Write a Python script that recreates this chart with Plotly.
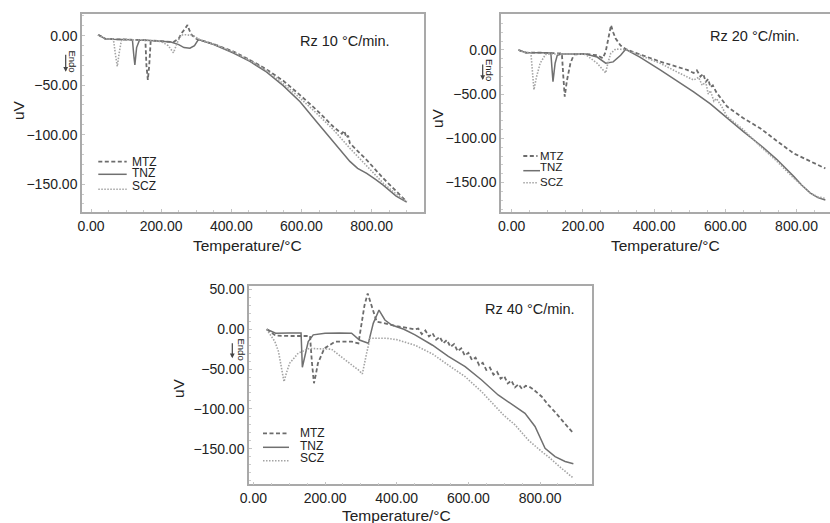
import plotly.graph_objects as go

W, H = 830, 523

# ---------------- data ----------------
# Panel 1: Rz 10 °C/min
t10_mtz = [20, 40, 60, 100, 140, 155, 158, 162, 166, 170, 175, 200, 235, 250, 258, 268, 275, 281, 287, 301, 311, 350, 406, 453, 500,
           548, 596, 643, 691, 715, 722, 728, 733, 738, 786, 833, 870, 900]
v10_mtz = [1, -3, -3.5, -4, -4, -4.5, -30, -44.7, -30, -6, -5, -5.5, -6.4, -3, 2.4, 7, 10.8, 5, 0.7, -3.4, -4.3, -8.5, -16, -24.5, -34,
           -45.5, -60, -75, -92, -99, -96, -103, -101, -108.7, -125.6, -144, -157, -167.7]

t10_tnz = [20, 40, 60, 100, 118, 122, 125, 130, 138, 160, 200, 228, 250, 265, 282, 295, 306, 311, 350, 406, 453, 500,
           548, 596, 643, 691, 738, 760, 786, 810, 833, 870, 900]
v10_tnz = [1, -3, -3.5, -4, -4, -20, -29.6, -12, -4.5, -4.5, -5.5, -6.3, -9, -12, -12.7, -10, -4, -4.3, -9, -17.5, -26, -36.5,
           -50.5, -66.7, -86.9, -107, -127, -134, -139, -145, -151, -162, -168]

t10_scz = [20, 40, 60, 64, 70, 75, 80, 87, 100, 150, 200, 220, 235, 249, 258, 270, 292, 311, 350, 406, 453, 500,
           548, 596, 643, 691, 738, 786, 833, 870, 900]
v10_scz = [1, -3, -3.5, -4, -20, -31, -18, -4, -4, -4.5, -6, -10, -17.2, -4.4, 0.7, 1, 0, -4.3, -8.5, -16.5, -25, -35,
           -48.5, -63, -78.4, -95, -113.7, -132, -149, -160, -167.7]

# Panel 2: Rz 20 °C/min
t20_mtz = [19, 40, 80, 120, 141, 145, 149, 155, 165, 175, 207, 240, 256, 264, 269, 279, 285, 292, 306, 320, 360, 417, 465, 493,
           511, 520, 530, 538, 545, 552, 558, 565, 575, 605, 650, 698, 745, 792, 839, 881]
v20_mtz = [0, -3, -3, -3.5, -4, -30, -52.8, -35, -15, -5, -4.5, -6, -9.4, -2, 7.5, 28, 20, 13, 5, 1, -5, -13.2, -19, -22.6,
           -26, -23, -30, -27, -36, -33, -42, -40, -48, -64, -77, -88.6, -103, -117, -126, -134]

t20_tnz = [19, 40, 80, 110, 113, 116, 122, 128, 140, 175, 207, 240, 264, 285, 306, 320, 360, 417, 465, 511, 558, 604, 650,
           698, 745, 792, 815, 839, 860, 881]
v20_tnz = [0, -3, -3, -3.5, -20, -35.8, -15, -6, -4.5, -4.5, -4.5, -8, -15, -13.5, -6, 0.8, -8, -22.6, -35, -47.5, -61, -77, -92,
           -107.5, -124, -143, -153, -162, -167, -169.7]

t20_scz = [19, 40, 54, 58, 62.5, 70, 80, 95, 120, 175, 207, 240, 264, 270, 278, 292, 320, 360, 417, 465, 511, 525, 535, 545,
           552, 558, 568, 575, 590, 604, 650, 698, 745, 792, 839, 860, 881]
v20_scz = [0, -3, -3.5, -25, -45, -30, -15, -5, -4.5, -4.5, -5, -15, -26, -15, -4, 1, 0.5, -6, -15, -25, -34, -31, -40, -36,
           -50, -46, -58, -55, -64, -75, -90, -109, -126, -145, -162, -166, -168]

# Panel 3: Rz 40 °C/min
t40_mtz = [37, 62, 100, 158, 163, 169, 175, 180, 198, 228, 274, 293, 302, 310, 319, 330, 344, 367, 400, 451,
           460, 470, 480, 490, 500, 510, 520, 530, 540, 550, 560, 570, 580, 590, 600, 610, 620, 630, 640, 650,
           660, 670, 680, 690, 700, 710, 720, 730, 740, 750, 760, 770, 780, 805, 823, 840, 860, 880, 893]
v40_mtz = [0, -8, -8.4, -8.4, -40, -67.8, -55, -42.7, -24, -15.5, -15.5, -17.6, 7.5, 30, 45, 28.4, 9.5, 7.5, 4, 0,
           1, -6, -1.5, -9, -5, -13, -9.5, -17.5, -13.5, -22, -18.5, -27.5, -24, -33, -29.5, -38.5, -35.5, -45, -42, -51,
           -48, -57, -53.5, -62, -59, -68, -64.5, -73, -69, -75, -71, -72, -75, -84.7, -95, -103, -114, -124, -130.6]

t40_tnz = [37, 62, 100, 133, 136.6, 145, 153, 167, 200, 240, 274, 296, 320.7, 334.5, 350.5, 367, 386, 420, 451, 500,
           544, 591, 637, 683, 730, 758, 786, 814, 842, 870, 893]
v40_tnz = [0, -5, -4.5, -4.5, -47.7, -30, -15.5, -7, -5, -4.5, -5, -13.4, -17.6, 7.5, 24.2, 11.7, 5.4, 0, -7, -20,
           -34, -47, -63.7, -82.5, -97, -105.5, -122, -149.5, -160, -166, -169]

t40_scz = [37, 60, 70, 80, 85.4, 92, 101, 125, 156, 218, 249, 275, 293, 304, 316, 325.5, 372, 400, 451, 500, 544, 591,
           637, 674, 698, 730, 767, 805, 823, 860, 893]
v40_scz = [0, -15.5, -28, -50, -65.8, -55, -42.7, -30, -24, -25, -36.4, -45, -51, -56, -30, -11.3, -11.3, -13, -20, -31, -45, -59.5,
           -78.4, -97, -107.7, -120, -139, -153.8, -160, -174.6, -187]

series_names = ["MTZ", "TNZ", "SCZ"]
x_ticks = [0, 200, 400, 600, 800]
y_ticks_top = [0, -50, -100, -150]
y_ticks_bottom = [50, 0, -50, -100, -150]
panel_titles = ["Rz 10 °C/min.", "Rz 20 °C/min.", "Rz 40 °C/min."]
x_title = "Temperature/°C"
y_title = "uV"
endo_text = "Endo"

panel_data = [
    [(t10_mtz, v10_mtz), (t10_tnz, v10_tnz), (t10_scz, v10_scz)],
    [(t20_mtz, v20_mtz), (t20_tnz, v20_tnz), (t20_scz, v20_scz)],
    [(t40_mtz, v40_mtz), (t40_tnz, v40_tnz), (t40_scz, v40_scz)],
]

# ---------------- styling ----------------
FONT = "Liberation Sans, Arial, Helvetica, sans-serif"
TXT = "#222222"
styles = {
    "MTZ": dict(color="#6c6c6c", width=1.8, dash="4px,2.5px"),
    "TNZ": dict(color="#707070", width=1.5, dash="solid"),
    "SCZ": dict(color="#a4a4a4", width=1.6, dash="1.5px,1.5px"),
}


def px(x):
    return x / W


def py(y):
    return 1 - y / H


# panel geometry (pixels): box left, right, top, bottom ; axis ranges
geom = [
    dict(l=82, r=424, t=14, b=212, xr=[-25.7, 949.3], yr=[-178.1, 21.9], yt=y_ticks_top, mirror_y=True),
    dict(l=501, r=830, t=14, b=212, xr=[-30, 894], yr=[-183.3, 40.7], yt=y_ticks_top, mirror_y=False),
    dict(l=249, r=592, t=286, b=484.3, xr=[-12.3, 945], yr=[-194.7, 54.4], yt=y_ticks_bottom, mirror_y=True),
]

fig = go.Figure()
suffixes = ["", "2", "3"]
for p, sfx in enumerate(suffixes):
    for name, (t, v) in zip(series_names, panel_data[p]):
        fig.add_trace(go.Scatter(
            x=t, y=v, mode="lines", name=name, showlegend=False,
            line=dict(shape="linear", **styles[name]),
            xaxis="x" + sfx, yaxis="y" + sfx, hoverinfo="skip",
        ))

axis_common = dict(
    showline=True, linecolor="#a9a9a9", linewidth=1.5,
    ticks="inside", ticklen=3, tickcolor="#c4c4c4", tickwidth=1,
    showgrid=False, zeroline=False, tickformat=".2f", automargin=False,
    tickfont=dict(family=FONT, size=14, color=TXT),
)

layout = dict(
    width=W, height=H, margin=dict(l=0, r=0, t=0, b=0, pad=0, autoexpand=False),
    paper_bgcolor="white", plot_bgcolor="white", showlegend=False,
    font=dict(family=FONT, color=TXT),
)
for i, (g, sfx) in enumerate(zip(geom, suffixes)):
    layout["xaxis" + sfx] = dict(
        axis_common, domain=[px(g["l"]), min(1.0, px(g["r"]))], range=g["xr"],
        anchor="y" + sfx, tickvals=x_ticks, mirror=True,
        minor=dict(ticks="inside", ticklen=2, tickcolor="#cccccc", dtick=50),
    )
    layout["yaxis" + sfx] = dict(
        axis_common, domain=[py(g["b"]), py(g["t"])], range=g["yr"],
        anchor="x" + sfx, tickvals=g["yt"], mirror=g["mirror_y"],
        minor=dict(ticks="inside", ticklen=2, tickcolor="#cccccc", dtick=10),
    )

annotations = []
shapes = []

# panel titles (rate labels)
title_pos = [(297.7, 40.7), (708, 36), (482.7, 309.3)]
for txt, (x, y) in zip(panel_titles, title_pos):
    annotations.append(dict(text=txt, x=px(x), y=py(y), xref="paper", yref="paper",
                            xanchor="left", yanchor="middle", showarrow=False,
                            font=dict(family=FONT, size=14.5, color=TXT)))

# axis titles
xt_pos = [(247.5, 245), (665.8, 245), (396, 515)]
yt_pos = [(18, 110), (437, 118), (178, 388)]
for (x, y) in xt_pos:
    annotations.append(dict(text=x_title, x=px(x), y=py(y), xref="paper", yref="paper",
                            xanchor="center", yanchor="middle", showarrow=False,
                            font=dict(family=FONT, size=15.5, color=TXT)))
for (x, y) in yt_pos:
    annotations.append(dict(text=y_title, x=px(x), y=py(y), xref="paper", yref="paper",
                            xanchor="center", yanchor="middle", showarrow=False, textangle=-90,
                            font=dict(family=FONT, size=15.5, color=TXT)))

# Endo labels + arrows
endo_pos = [((72.3, 61.7), (65.7, 53.3, 71.7)),
            ((490, 70), (482.7, 63, 80)),
            ((241.5, 349), (232.3, 341.7, 358.3))]
for (tx, ty), (ax_, y0, y1) in endo_pos:
    annotations.append(dict(text=endo_text, x=px(tx), y=py(ty), xref="paper", yref="paper",
                            xanchor="center", yanchor="middle", showarrow=False, textangle=90,
                            font=dict(family=FONT, size=9.5, color=TXT)))
    annotations.append(dict(text="", x=px(ax_), y=py(y1), xref="paper", yref="paper",
                            showarrow=True, ax=0, ay=-(y1 - y0), arrowhead=2, arrowsize=0.8,
                            arrowwidth=1.2, arrowcolor="#444444"))

# legends (sample line + label)
legend_geo = [
    dict(sx=(98.3, 126.7), sy=[161.7, 174.3, 189.3], tx=130, ty=[161.7, 173.5, 186], fs=12),
    dict(sx=(523.3, 537.5), sy=[156, 170.7, 182.7], tx=537.5, ty=[156, 167, 182], fs=11.5),
    dict(sx=(263, 289), sy=[433.3, 447.3, 460.7], tx=298, ty=[433.3, 445.5, 458], fs=12),
]
for lg in legend_geo:
    for k, name in enumerate(series_names):
        st = styles[name]
        sx0, sx1 = lg["sx"]
        if name == "TNZ" and lg["fs"] < 12:
            sx1 = 540
        shapes.append(dict(type="line", xref="paper", yref="paper",
                           x0=px(sx0), x1=px(sx1), y0=py(lg["sy"][k]), y1=py(lg["sy"][k]),
                           line=dict(color=st["color"], width=st["width"], dash=st["dash"])))
        annotations.append(dict(text=name, x=px(lg["tx"]), y=py(lg["ty"][k]), xref="paper", yref="paper",
                                xanchor="left", yanchor="middle", showarrow=False,
                                font=dict(family=FONT, size=lg["fs"], color=TXT)))

layout["annotations"] = annotations
layout["shapes"] = shapes
fig.update_layout(**layout)

fig.write_html(
    "out.html",
    config={"displayModeBar": False},
    post_script="document.body.style.margin='0px';document.body.style.padding='0px';"
                "document.body.style.overflow='hidden';",
)
